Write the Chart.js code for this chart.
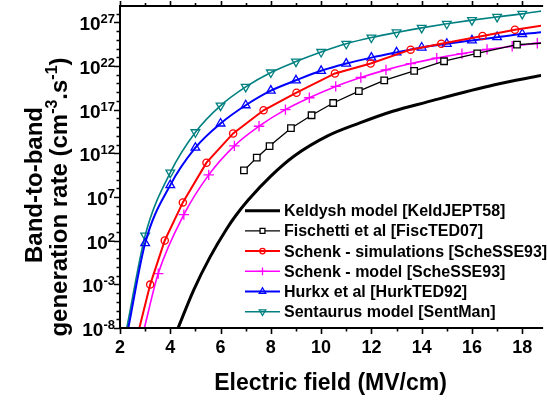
<!DOCTYPE html>
<html>
<head>
<meta charset="utf-8">
<script src="https://cdn.jsdelivr.net/npm/chart.js@4.4.0/dist/chart.umd.min.js"></script>
<style>
  html, body { margin: 0; padding: 0; background: #fff; }
  canvas { display: block; }
</style>
</head>
<body>
<canvas id="btbChart" width="547" height="401"></canvas>
<script>
// field in MV/cm, rate in cm^-3 s^-1
const keldyshX = [4.31, 4.93, 5.58, 6.24, 6.6, 7.1, 8.01, 8.93, 10.24, 11.54, 12.85, 14.16, 16.9, 18.75];
const keldyshY = [1e-8, 2.2e-4, 1.3, 2.2e3, 7.1e4, 4.5e6, 2.6e9, 4.9e11, 9.3e13, 3.0e15, 6.5e16, 6.9e17, 7.1e19, 8.1e20];

const fischettiX = [6.93, 7.44, 7.95, 8.8, 9.62, 10.48, 11.5, 12.51, 13.7, 14.89, 16.21, 17.79, 18.75];
const fischettiY = [1.1e10, 3.2e11, 6.8e12, 7.6e14, 2.3e16, 5.8e17, 1.3e19, 2.2e20, 2.8e21, 3.5e22, 2.8e23, 2.8e24, 4.0e24];

const schenkSimX = [2.77, 3.2, 3.78, 4.5, 5.44, 6.5, 7.71, 9.02, 10.55, 11.97, 13.56, 14.78, 16.42, 17.71, 18.75];
const schenkSimY = [1e-8, 9.3e-4, 1.05e2, 2.4e6, 8.5e10, 1.9e14, 8.5e16, 8.7e18, 1.4e21, 1.9e22, 7.4e23, 3.5e24, 2.7e25, 1.4e26, 4.0e26];

const schenkModelX = [2.97, 3.52, 4.54, 5.53, 6.55, 7.53, 8.58, 9.53, 10.58, 11.58, 12.58, 13.57, 14.6, 15.6, 16.6, 17.6, 18.6, 18.75];
const schenkModelY = [1e-8, 1.7e-2, 9.5e4, 3.4e9, 7.2e12, 1.26e15, 1.0e17, 2.3e18, 4.6e19, 4.8e20, 3.6e21, 1.9e22, 7.9e22, 2.6e23, 7.9e23, 1.8e24, 4.0e24, 4.5e24];

const hurkxX = [2.33, 3, 4, 5, 6, 7, 8, 9, 10, 11, 12, 13, 14, 15, 16, 17, 18, 18.75];
const hurkxY = [1e-8, 5.1e1, 2.3e8, 4.4e12, 2.6e15, 3.2e17, 1.5e19, 2.3e20, 2.8e21, 1.9e22, 9.1e22, 3.6e23, 1.3e24, 3.5e24, 8.5e24, 2.0e25, 4.6e25, 7.1e25];

const sentaurusX = [2.27, 3, 4, 5, 6, 7, 8, 9, 10, 11, 12, 13, 14, 15, 16, 17, 18, 18.75];
const sentaurusY = [1e-8, 3.8e2, 6.2e9, 2.6e14, 2.9e17, 4.0e19, 1.8e21, 3.2e22, 4.0e23, 3.5e24, 1.8e25, 6.9e25, 2.3e26, 6.8e26, 1.8e27, 4.2e27, 9.3e27, 1.9e28];

const seriesNames = [
  'Keldysh model [KeldJEPT58]',
  'Fischetti et al [FiscTED07]',
  'Schenk - simulations [ScheSSE93]',
  'Schenk - model [ScheSSE93]',
  'Hurkx et al [HurkTED92]',
  'Sentaurus model [SentMan]'
];

const xTickLabels = [2, 4, 6, 8, 10, 12, 14, 16, 18];
const yTickExps = [-8, -3, 2, 7, 12, 17, 22, 27];
const xTitle = 'Electric field (MV/cm)';
const yTitle1 = 'Band-to-band';
const yTitle2 = [['generation rate (cm', 0], ['-3', 1], ['.s', 0], ['-1', 1], [')', 0]];

const X_MIN = 2, X_MAX = 18.75;
const Y_MIN = 1e-8, Y_MAX = 7.6e28;
const FONT = "'Liberation Sans', Arial, Helvetica, sans-serif";

function pts(xs, ys) {
  return xs.map((x, i) => ({ x: x, y: ys[i] }));
}

// no marker on the points where a curve meets the plot edge
function markerRadius(r) {
  return c => (c.raw && (c.raw.y <= Y_MIN || c.raw.x >= X_MAX)) ? 0 : r;
}

function series(name, xs, ys, color, width, style, r, extra) {
  return Object.assign({
    label: name,
    data: pts(xs, ys),
    showLine: true,
    borderColor: color,
    borderWidth: width,
    pointStyle: style || false,
    pointRadius: style ? markerRadius(r) : 0,
    pointBorderColor: color,
    pointBorderWidth: 1.3,
    pointBackgroundColor: 'rgba(0,0,0,0)',
    cubicInterpolationMode: 'monotone',
    tension: 0.4,
    _legendR: r
  }, extra || {});
}

const datasets = [
  series(seriesNames[0], keldyshX, keldyshY, '#000000', 3, null, 0),
  series(seriesNames[1], fischettiX, fischettiY, '#000000', 1.3, 'rect', 4.6, { pointBackgroundColor: '#ffffff', tension: 0, cubicInterpolationMode: 'default' }),
  series(seriesNames[2], schenkSimX, schenkSimY, '#ff0000', 2, 'circle', 3.6, { tension: 0, cubicInterpolationMode: 'default' }),
  series(seriesNames[3], schenkModelX, schenkModelY, '#ff00ff', 1.6, 'cross', 5.2),
  series(seriesNames[4], hurkxX, hurkxY, '#0000ff', 2, 'triangle', 5),
  series(seriesNames[5], sentaurusX, sentaurusY, '#008080', 1.6, 'triangle', 5, { pointRotation: 180 })
];

function drawMark(ctx, ds, x, y, r) {
  ctx.save();
  ctx.strokeStyle = ds.borderColor;
  ctx.lineWidth = 1.3;
  ctx.beginPath();
  const st = ds.pointStyle;
  if (st === 'rect') {
    const s = r * Math.SQRT1_2;
    ctx.rect(x - s, y - s, 2 * s, 2 * s);
  } else if (st === 'circle') {
    ctx.arc(x, y, r, 0, Math.PI * 2);
  } else if (st === 'cross') {
    ctx.moveTo(x - r, y); ctx.lineTo(x + r, y);
    ctx.moveTo(x, y - r); ctx.lineTo(x, y + r);
  } else if (st === 'triangle') {
    const d = ds.pointRotation === 180 ? -1 : 1;
    ctx.moveTo(x, y - d * r);
    ctx.lineTo(x + r * 0.866, y + d * r * 0.5);
    ctx.lineTo(x - r * 0.866, y + d * r * 0.5);
    ctx.closePath();
  }
  if (ds.pointBackgroundColor === '#ffffff') {
    ctx.fillStyle = '#ffffff';
    ctx.fill();
  }
  ctx.stroke();
  ctx.restore();
}

const axesPlugin = {
  id: 'axesPlugin',
  afterDraw(chart) {
    const ctx = chart.ctx;
    const a = chart.chartArea;
    const xs = chart.scales.x, ys = chart.scales.y;
    ctx.save();
    ctx.strokeStyle = '#000';
    ctx.fillStyle = '#000';

    // frame (right side is cut off in the original)
    ctx.lineWidth = 2;
    ctx.beginPath();
    ctx.moveTo(a.right + 2, a.top);
    ctx.lineTo(a.left, a.top);
    ctx.lineTo(a.left, a.bottom);
    ctx.lineTo(a.right + 2, a.bottom);
    ctx.stroke();

    // x ticks, every 1 MV/cm, labelled every 2
    ctx.lineWidth = 1.6;
    ctx.beginPath();
    for (let v = X_MIN; v <= X_MAX; v += 1) {
      const px = Math.round(xs.getPixelForValue(v)) + 0.5;
      const major = xTickLabels.includes(v);
      ctx.moveTo(px, a.bottom); ctx.lineTo(px, a.bottom + (major ? 6 : 3.5));
      ctx.moveTo(px, a.top); ctx.lineTo(px, a.top - (major ? 5 : 3));
    }
    // y ticks, every decade
    for (let e = -8; Math.pow(10, e) <= Y_MAX; e++) {
      const py = Math.round(ys.getPixelForValue(Math.pow(10, e))) + 0.5;
      const major = yTickExps.includes(e);
      ctx.moveTo(a.left, py); ctx.lineTo(a.left - (major ? 6 : 3.5), py);
    }
    ctx.stroke();

    // x tick labels
    ctx.font = 'bold 18px ' + FONT;
    ctx.textAlign = 'center';
    ctx.textBaseline = 'alphabetic';
    xTickLabels.forEach(v => {
      ctx.fillText(String(v), xs.getPixelForValue(v), 353);
    });

    // y tick labels as 10 with superscript exponent
    yTickExps.forEach(e => {
      const py = ys.getPixelForValue(Math.pow(10, e));
      const expTxt = e < 0 ? '-' + Math.abs(e) : String(e);
      ctx.font = 'bold 13px ' + FONT;
      const we = ctx.measureText(expTxt).width;
      ctx.font = 'bold 19px ' + FONT;
      const wb = ctx.measureText('10').width;
      const right = 115;
      ctx.textAlign = 'left';
      ctx.fillText('10', right - we - wb, py + 8);
      ctx.font = 'bold 13px ' + FONT;
      ctx.fillText(expTxt, right - we, py + 1);
    });

    // x title
    ctx.font = 'bold 23px ' + FONT;
    ctx.textAlign = 'center';
    ctx.fillText(xTitle, (a.left + a.right) / 2, 390);

    // y title, two rotated lines
    ctx.save();
    ctx.translate(42, 185);
    ctx.rotate(-Math.PI / 2);
    ctx.font = 'bold 24px ' + FONT;
    ctx.textAlign = 'center';
    ctx.fillText(yTitle1, 0, 0);
    ctx.restore();

    ctx.save();
    ctx.translate(67, 197);
    ctx.rotate(-Math.PI / 2);
    ctx.textAlign = 'left';
    const fonts = ['bold 24px ' + FONT, 'bold 16px ' + FONT];
    let total = 0;
    yTitle2.forEach(p => { ctx.font = fonts[p[1]]; total += ctx.measureText(p[0]).width; });
    let cx = -total / 2;
    yTitle2.forEach(p => {
      ctx.font = fonts[p[1]];
      ctx.fillText(p[0], cx, p[1] ? -10 : 0);
      cx += ctx.measureText(p[0]).width;
    });
    ctx.restore();

    // legend
    const lx0 = 245, lx1 = 280, tx = 284, ty0 = 210.7, dy = 20.2;
    ctx.font = 'bold 16px ' + FONT;
    ctx.textAlign = 'left';
    ctx.textBaseline = 'middle';
    chart.data.datasets.forEach((ds, i) => {
      const y = ty0 + i * dy;
      ctx.strokeStyle = ds.borderColor;
      ctx.lineWidth = ds.borderWidth;
      ctx.beginPath();
      ctx.moveTo(lx0, y); ctx.lineTo(lx1, y);
      ctx.stroke();
      if (ds.pointStyle) drawMark(ctx, ds, (lx0 + lx1) / 2, y, ds._legendR * 0.75);
      ctx.fillStyle = '#000';
      ctx.fillText(ds.label, tx, y + 1);
    });

    ctx.restore();
  }
};

new Chart(document.getElementById('btbChart').getContext('2d'), {
  type: 'scatter',
  data: { datasets: datasets },
  options: {
    responsive: false,
    animation: false,
    devicePixelRatio: 1,
    layout: { padding: { left: 120, top: 4, right: 0, bottom: 73 } },
    plugins: {
      legend: { display: false },
      tooltip: { enabled: false }
    },
    scales: {
      x: { type: 'linear', min: X_MIN, max: X_MAX, display: false },
      y: { type: 'logarithmic', min: Y_MIN, max: Y_MAX, display: false }
    }
  },
  plugins: [axesPlugin]
});
</script>
</body>
</html>
